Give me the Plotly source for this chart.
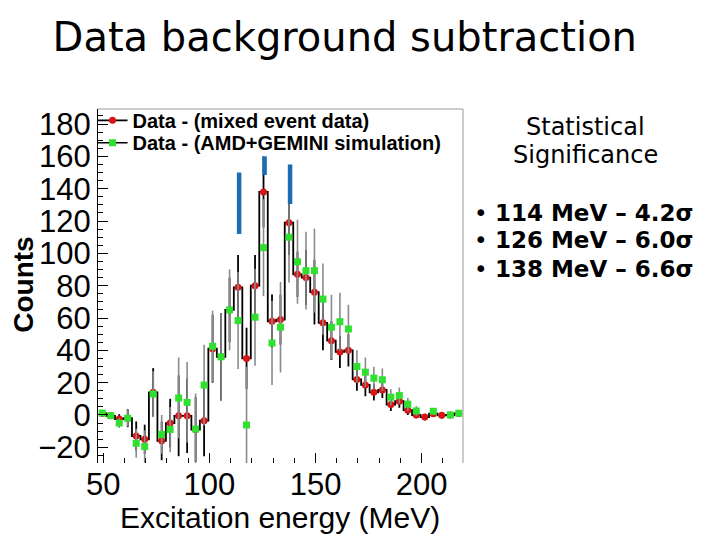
import plotly.graph_objects as go

# Bin centres (MeV), 4 MeV bins
energy = [49.5, 53.5, 57.5, 61.5, 65.5, 69.5, 73.5, 77.5, 81.5, 85.5,
          89.5, 93.5, 97.5, 101.5, 105.5, 109.5, 113.5, 117.5, 121.5, 125.5,
          129.5, 133.5, 137.5, 141.5, 145.5, 149.5, 153.5, 157.5, 161.5, 165.5,
          169.5, 173.5, 177.5, 181.5, 185.5, 189.5, 193.5, 197.5, 201.5, 205.5,
          209.5, 213.5, 217.5]

# Data - (mixed event data)
mixed_counts = [1, -0.5, -2.5, -2, -13, -15, 14, -16, -5, -0.5,
                -0.5, -9, -3.5, 41, 36, 65, 79, 35, 80, 138,
                58, 59, 119, 87, 85, 76, 57, 46, 39, 40,
                22, 18.6, 14, 15.5, 6.5, 8.5, 3, 0, -1.3, 0.8,
                -0.2, 0, 1]
mixed_err = [2, 2, 3, 5.5, 9, 9, 15, 12, 15, 25,
             23, 20, 22, 21, 27, 20, 20, 19, 19, 22,
             16.5, 15.5, 20, 14, 17, 20, 17, 12, 10, 10,
             7, 7, 5, 5, 4, 4, 3, 2, 2, 2,
             2, 1.5, 1.5]

# Data - (AMD+GEMINI simulation)
sim_counts = [1.2, -0.4, -5, -2, -17.5, -19.5, 13, -12, -9, 10.5,
              7.8, -8.7, 18.5, 42.5, 36, 65, 58.4, -6.2, 60.5, 103.5,
              44.5, 54.3, 110, 94.8, 89.3, 89.3, 71.7, 54.3, 57.7, 53.2,
              30, 26.5, 22.8, 21.8, 11, 12, 6.7, 2.5, None, 2.3,
              None, 0, 1.1]
sim_err = [2, 2, 3, 5, 9, 10, 14, 12, 14, 25,
           25, 22, 25, 22, 27, 25, 30, 36, 30, 30,
           26, 28, 28, 26, 24, 26, 22, 20, 18, 15,
           10, 9, 7, 7, 5, 5, 4, 3, 0, 2,
           0, 2, 2]

# Peak markers (blue bars)
peak_energy = [114, 126, 138]
peak_low = [112, 148.5, 130.5]
peak_high = [150, 160, 155]

x_ticks = [50, 100, 150, 200]
y_ticks = [-20, 0, 20, 40, 60, 80, 100, 120, 140, 160, 180]

sig_lines = ["114 MeV \u2013 4.2\u03c3", "126 MeV \u2013 6.0\u03c3", "138 MeV \u2013 6.6\u03c3"]

fig = go.Figure()

fig.add_trace(go.Scatter(
    x=energy, y=mixed_counts, mode="lines+markers",
    line=dict(color="black", width=1.8, shape="hvh"),
    marker=dict(color="#d81414", size=7, symbol="circle"),
    error_y=dict(type="data", array=mixed_err, color="black", thickness=1.8, width=0),
    name="Data - (mixed event data)", legend="legend",
))

fig.add_trace(go.Scatter(
    x=energy, y=sim_counts, mode="markers",
    marker=dict(color="#2fe02f", size=7, symbol="square"),
    error_y=dict(type="data", array=sim_err, color="#8a8a8a", thickness=1.6, width=0),
    name="Data - (AMD+GEMINI simulation)", showlegend=False,
))

fig.add_trace(go.Scatter(
    x=[None], y=[None], mode="lines+markers",
    line=dict(color="black", width=1.5),
    marker=dict(color="#2fe02f", size=7, symbol="square"),
    name="Data - (AMD+GEMINI simulation)", legend="legend2",
))

bx, by = [], []
for e, lo, hi in zip(peak_energy, peak_low, peak_high):
    bx += [e, e, None]
    by += [lo, hi, None]
fig.add_trace(go.Scatter(x=bx, y=by, mode="lines",
                         line=dict(color="#1b6db4", width=4.5),
                         showlegend=False, hoverinfo="skip"))

tick_font = dict(family="Liberation Sans, Arial, sans-serif", size=31, color="black")
leg_font = dict(family="Liberation Sans, Arial, sans-serif", size=20, color="black", weight="bold")

fig.update_layout(
    width=712, height=532,
    margin=dict(l=90, r=257, t=101, b=77),
    paper_bgcolor="white", plot_bgcolor="white",
    showlegend=True,
    legend=dict(x=-0.015, y=0.968, xanchor="left", yanchor="middle",
                bgcolor="rgba(0,0,0,0)", font=leg_font, itemwidth=30),
    legend2=dict(x=-0.015, y=0.905, xanchor="left", yanchor="middle",
                 bgcolor="rgba(0,0,0,0)", font=leg_font, itemwidth=30),
    title=dict(text="Data background subtraction", x=0.473, y=0.945,
               xanchor="center", yanchor="middle",
               font=dict(family="DejaVu Sans, sans-serif", size=40, color="black")),
    xaxis=dict(range=[47.5, 219.5], tickvals=x_ticks, ticks="inside", ticklen=10,
               tickcolor="black", tickwidth=1, showgrid=False, zeroline=False,
               showline=False, tickfont=tick_font,
               minor=dict(dtick=10, tick0=50, ticks="inside", ticklen=5, tickcolor="black")),
    yaxis=dict(range=[-29.7, 189.3], tickvals=y_ticks, ticks="inside", ticklen=10,
               tickcolor="black", tickwidth=1, showgrid=False, zeroline=False,
               showline=True, linecolor="black", linewidth=1, tickfont=tick_font,
               minor=dict(dtick=5, tick0=0, ticks="inside", ticklen=5, tickcolor="black")),
    shapes=[
        dict(type="line", xref="paper", yref="paper", x0=0, x1=1, y0=1, y1=1,
             line=dict(color="#9a9a9a", width=1)),
        dict(type="line", xref="paper", yref="paper", x0=1, x1=1, y0=0, y1=1,
             line=dict(color="#9a9a9a", width=1)),
    ],
)

ann = []
ann.append(dict(text="<b>Counts</b>", xref="paper", yref="paper", x=-0.205, y=0.504,
                textangle=-90, showarrow=False, xanchor="center", yanchor="middle",
                font=dict(family="Liberation Sans, Arial, sans-serif", size=28, color="black")))
ann.append(dict(text="Excitation energy (MeV)", xref="paper", yref="paper", x=0.498, y=-0.155,
                showarrow=False, xanchor="center", yanchor="middle",
                font=dict(family="Liberation Sans, Arial, sans-serif", size=30, color="black")))
ann.append(dict(text="Statistical", xref="paper", yref="paper", x=1.336, y=0.950,
                showarrow=False, xanchor="center", yanchor="middle",
                font=dict(family="DejaVu Sans, sans-serif", size=24, color="black")))
ann.append(dict(text="Significance", xref="paper", yref="paper", x=1.336, y=0.871,
                showarrow=False, xanchor="center", yanchor="middle",
                font=dict(family="DejaVu Sans, sans-serif", size=24, color="black")))
for txt, yy in zip(sig_lines, [0.707, 0.631, 0.548]):
    ann.append(dict(text="\u2022 <b>" + txt + "</b>", xref="paper", yref="paper", x=1.025, y=yy,
                    showarrow=False, xanchor="left", yanchor="middle",
                    font=dict(family="DejaVu Sans, sans-serif", size=23, color="black")))
fig.update_layout(annotations=ann)

fig.write_html("out.html")
